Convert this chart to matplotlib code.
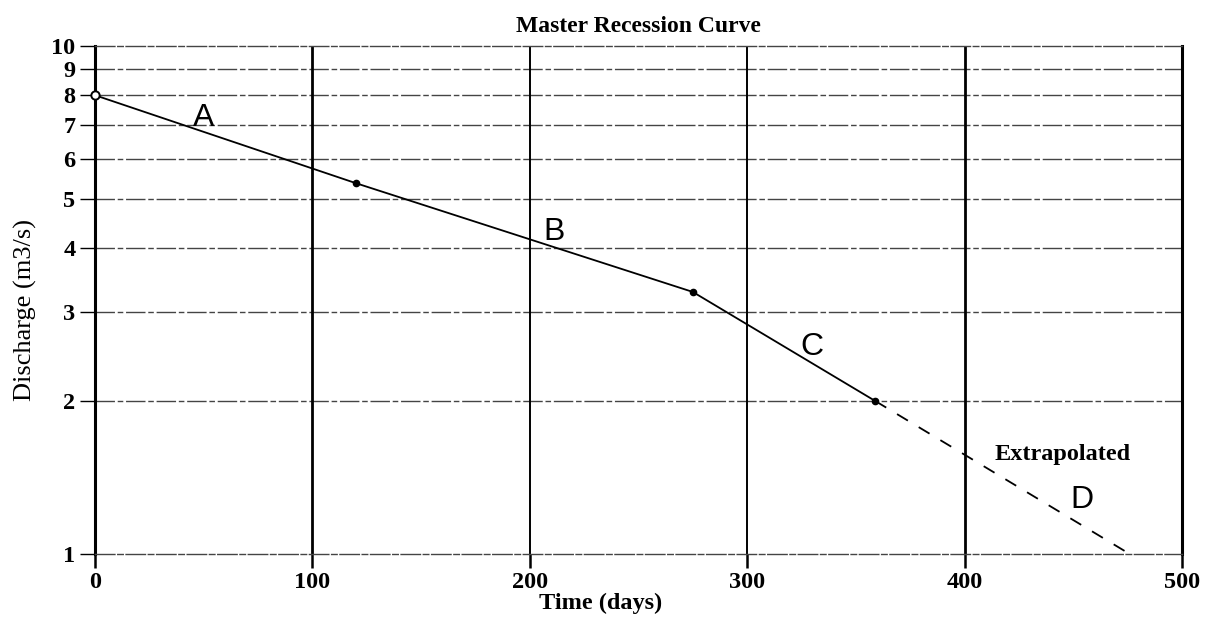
import matplotlib.pyplot as plt
from matplotlib.ticker import FixedLocator, FixedFormatter, NullLocator

# recession segments: break points of the master curve
days = [0, 120, 275, 359]
discharge = [8.0, 5.37, 3.28, 2.0]
extrap_days = [359, 476]
extrap_discharge = [2.0, 1.0]

segment_labels = ['A', 'B', 'C', 'D']
label_days = [50, 211, 330, 454]
label_discharge = [7.2, 4.3, 2.56, 1.28]

x_ticks = [0, 100, 200, 300, 400, 500]
y_ticks = [1, 2, 3, 4, 5, 6, 7, 8, 9, 10]

serif = ['Liberation Serif', 'DejaVu Serif']


def main():
    fig = plt.figure(figsize=(12.06, 6.25), dpi=100)
    ax = fig.add_axes([0.0788, 0.1136, 0.9012, 0.8128])
    ax.set_yscale('log')
    ax.set_xlim(0, 500)
    ax.set_ylim(1, 10)

    # horizontal grid at every integer discharge
    for v in y_ticks[1:-1]:
        ax.axhline(v, color='#444444', lw=1.0, ls=(0, (14, 2, 4, 2)), zorder=1)
    for v in x_ticks[1:-1]:
        lw = 2.0 if v in (100, 400) else 1.4
        ax.axvline(v, color='black', lw=lw, zorder=1)

    for side in ('top', 'bottom'):
        ax.spines[side].set_linestyle((0, (14, 2, 4, 2)))
        ax.spines[side].set_linewidth(1.0)
        ax.spines[side].set_color('#444444')
    for side in ('left', 'right'):
        ax.spines[side].set_linewidth(2.2)

    ax.plot(days, discharge, color='black', lw=1.3, zorder=3)
    ax.plot(extrap_days, extrap_discharge, color='black', lw=1.3,
            ls=(0, (7, 7)), zorder=3)
    ax.plot(days[1:], discharge[1:], 'o', color='black', ms=4.5, zorder=4)
    ax.plot(days[:1], discharge[:1], 'o', mfc='white', mec='black',
            mew=1.4, ms=6, zorder=4, clip_on=False)

    for lab, x, y in zip(segment_labels, label_days, label_discharge):
        ax.text(x, y, lab, fontsize=23, family=['Liberation Sans'],
                ha='center', va='center', zorder=5)
    ax.text(445, 1.57, 'Extrapolated', fontsize=17.5, family=serif,
            fontweight='bold', ha='center', va='center')

    ax.xaxis.set_major_locator(FixedLocator(x_ticks))
    ax.xaxis.set_major_formatter(FixedFormatter([str(t) for t in x_ticks]))
    ax.yaxis.set_major_locator(FixedLocator(y_ticks))
    ax.yaxis.set_major_formatter(FixedFormatter([str(t) for t in y_ticks]))
    ax.yaxis.set_minor_locator(NullLocator())
    ax.tick_params(axis='x', length=10, width=1.8, pad=3)
    ax.tick_params(axis='y', length=11, width=1.0, pad=3)
    for t in ax.get_xticklabels() + ax.get_yticklabels():
        t.set_family(serif)
        t.set_fontsize(17.5)
        t.set_fontweight('bold')

    ax.set_title('Master Recession Curve', fontsize=17, family=serif,
                 fontweight='bold', pad=10)
    ax.set_xlabel('Time (days)', fontsize=17.5, family=serif,
                  fontweight='bold')
    ax.xaxis.set_label_coords(0.4655, -0.077)
    ax.set_ylabel('Discharge (m3/s)', fontsize=19, family=serif)
    ax.yaxis.set_label_coords(-0.053, 0.48)

    fig.savefig('out.png', dpi=100)


if __name__ == '__main__':
    main()
